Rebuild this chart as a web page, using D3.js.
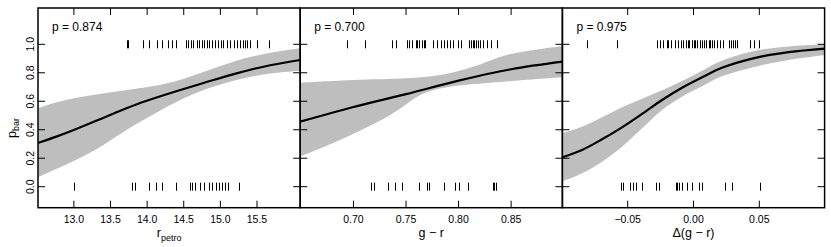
<!DOCTYPE html>
<html>
<head>
<meta charset="utf-8">
<script src="https://cdn.jsdelivr.net/npm/d3@7"></script>
<style>
  body { margin: 0; background: #fff; }
  text { font-family: "Liberation Sans", Arial, sans-serif; fill: #000; }
</style>
</head>
<body>
<div id="chart"></div>
<script>
var
    width = 831,
    height = 247;

// ---- data ----
var pTexts = ["p = 0.874", "p = 0.700", "p = 0.975"];

// panel 1 : r_petro
var rpTicks = [13.0, 13.5, 14.0, 14.5, 15.0, 15.5];
var rpCurve = [[12.508, 0.307], [12.78, 0.355], [13.055, 0.41], [13.33, 0.468], [13.60, 0.527], [13.87, 0.581], [14.15, 0.630], [14.42, 0.674], [14.77, 0.728], [15.22, 0.796], [15.68, 0.853], [16.09, 0.89]];
var rpUpper = [[12.508, 0.551], [12.78, 0.595], [13.055, 0.626], [13.33, 0.650], [13.60, 0.670], [13.87, 0.690], [14.15, 0.712], [14.42, 0.745], [14.77, 0.805], [15.22, 0.885], [15.68, 0.940], [16.09, 0.972]];
var rpLower = [[12.508, 0.066], [12.78, 0.129], [13.055, 0.195], [13.33, 0.27], [13.60, 0.36], [13.87, 0.445], [14.15, 0.527], [14.42, 0.600], [14.77, 0.679], [15.22, 0.750], [15.68, 0.795], [16.09, 0.815]];
var rpBarred = [13.72, 13.74, 13.94, 14.02, 14.13, 14.20, 14.28, 14.34, 14.40, 14.53, 14.56, 14.60, 14.63, 14.68, 14.71, 14.75, 14.78, 14.82, 14.85, 14.88, 14.92, 14.97, 15.01, 15.04, 15.09, 15.13, 15.18, 15.23, 15.27, 15.31, 15.34, 15.36, 15.41, 15.50, 15.66];
var rpUnbarred = [13.0, 13.79, 13.83, 14.02, 14.12, 14.20, 14.39, 14.59, 14.61, 14.66, 14.72, 14.77, 14.84, 14.89, 14.94, 14.98, 15.02, 15.06, 15.10, 15.26];

// panel 2 : g - r
var grTicks = [0.70, 0.75, 0.80, 0.85];
var grCurve = [[0.649, 0.456], [0.70, 0.56], [0.75, 0.65], [0.80, 0.745], [0.85, 0.825], [0.899, 0.878]];
var grUpper = [[0.649, 0.730], [0.70, 0.749], [0.75, 0.761], [0.7825, 0.784], [0.814, 0.843], [0.846, 0.925], [0.899, 0.988]];
var grLower = [[0.649, 0.211], [0.687, 0.328], [0.735, 0.504], [0.767, 0.656], [0.792, 0.702], [0.83, 0.730], [0.899, 0.768]];
var grBarred = [0.6937, 0.7111, 0.7365, 0.7406, 0.7508, 0.7530, 0.7555, 0.7593, 0.7609, 0.7628, 0.7651, 0.7672, 0.7682, 0.7755, 0.7793, 0.7831, 0.7863, 0.7888, 0.7920, 0.7951, 0.7999, 0.8021, 0.8101, 0.8117, 0.8136, 0.8151, 0.8167, 0.8189, 0.8205, 0.8231, 0.8269, 0.8310, 0.8370];
var grUnbarred = [0.7166, 0.7191, 0.7324, 0.7397, 0.7460, 0.7628, 0.7698, 0.7723, 0.7863, 0.7968, 0.8006, 0.8094, 0.8326, 0.8340, 0.8355];

// panel 3 : delta(g - r)
var dgrTicks = [-0.05, 0.00, 0.05];
var dgrCurve = [[-0.0999, 0.206], [-0.0847, 0.258], [-0.0695, 0.333], [-0.0543, 0.417], [-0.0391, 0.511], [-0.0239, 0.609], [-0.0087, 0.695], [0.0065, 0.768], [0.0216, 0.835], [0.047, 0.905], [0.0723, 0.945], [0.0999, 0.97]];
var dgrUpper = [[-0.0999, 0.375], [-0.0847, 0.421], [-0.0695, 0.487], [-0.0543, 0.558], [-0.0391, 0.618], [-0.0239, 0.677], [-0.0087, 0.742], [0.0065, 0.815], [0.0216, 0.885], [0.047, 0.955], [0.0723, 0.985], [0.0999, 1.0]];
var dgrLower = [[-0.0999, 0.035], [-0.0847, 0.094], [-0.0695, 0.176], [-0.0543, 0.281], [-0.0391, 0.41], [-0.0239, 0.539], [-0.0087, 0.632], [0.0065, 0.705], [0.0216, 0.775], [0.047, 0.843], [0.0723, 0.89], [0.0999, 0.925]];
var dgrBarred = [-0.0812, -0.0584, -0.0275, -0.0254, -0.0229, -0.0203, -0.0191, -0.0173, -0.0140, -0.0115, -0.0096, -0.0077, -0.0056, -0.0043, -0.0031, -0.0013, 0.0000, 0.0013, 0.0030, 0.0051, 0.0064, 0.0081, 0.0096, 0.0114, 0.0127, 0.0140, 0.0157, 0.0178, 0.0198, 0.0224, 0.0266, 0.0284, 0.0300, 0.0317, 0.0330, 0.0431, 0.0462, 0.0495];
var dgrUnbarred = [-0.0553, -0.0533, -0.0482, -0.0457, -0.0437, -0.0393, -0.0284, -0.0259, -0.0132, -0.0122, -0.0112, -0.0089, -0.0051, -0.0013, 0.0038, 0.0064, 0.0241, 0.0292, 0.0502];

var yTicks = [0.0, 0.2, 0.4, 0.6, 0.8, 1.0];

// ---- layout ----
var plotLeft = 38, panelW = 262.2, plotTop = 8, plotBottom = 207.7;

var panels = [
  {dom: [12.51, 16.09], ticks: rpTicks, fmt: d3.format(".1f"), curve: rpCurve, up: rpUpper, lo: rpLower, bar: rpBarred, unb: rpUnbarred, title: ["r", "petro"]},
  {dom: [0.6493, 0.8988], ticks: grTicks, fmt: d3.format(".2f"), curve: grCurve, up: grUpper, lo: grLower, bar: grBarred, unb: grUnbarred, title: ["g \u2212 r", ""]},
  {dom: [-0.0996, 0.0996], ticks: dgrTicks, fmt: function(d) { return d3.format(".2f")(d).replace("-", "\u2212"); }, curve: dgrCurve, up: dgrUpper, lo: dgrLower, bar: dgrBarred, unb: dgrUnbarred, title: ["\u0394(g \u2212 r)", ""]}
];

var svg = d3.select("#chart")
        .append("svg")
        .attr("width", width)
        .attr("height", height);

var y = d3.scaleLinear().domain([0, 1]).range([186.7, 44.3]);

panels.forEach(function(p, i) {
  var x0 = plotLeft + i * panelW, x1 = x0 + panelW;
  var x = d3.scaleLinear().domain(p.dom).range([x0, x1]);

  svg.append("clipPath").attr("id", "clip" + i)
    .append("rect").attr("x", x0).attr("y", plotTop).attr("width", panelW).attr("height", plotBottom - plotTop);

  var g = svg.append("g").attr("clip-path", "url(#clip" + i + ")");

  var line = d3.line()
      .x(function(d) { return x(d[0]); })
      .y(function(d) { return y(d[1]); })
      .curve(d3.curveCatmullRom);

  // confidence band
  var upPath = line(p.up);
  var loPath = line(p.lo.slice().reverse());
  g.append("path")
    .attr("d", upPath + loPath.replace(/^M/, "L") + "Z")
    .attr("fill", "#bebebe")
    .attr("stroke", "none");

  // fitted curve
  g.append("path")
    .attr("d", line(p.curve))
    .attr("fill", "none")
    .attr("stroke", "#000")
    .attr("stroke-width", 2.2);

  // rugs
  g.selectAll(".rugTop").data(p.bar).enter().append("line")
    .attr("x1", function(d) { return Math.round(x(d)) + 0.5; })
    .attr("x2", function(d) { return Math.round(x(d)) + 0.5; })
    .attr("y1", y(1) - 4).attr("y2", y(1) + 4)
    .attr("stroke", "#000").attr("stroke-width", 1);
  g.selectAll(".rugBot").data(p.unb).enter().append("line")
    .attr("x1", function(d) { return Math.round(x(d)) + 0.5; })
    .attr("x2", function(d) { return Math.round(x(d)) + 0.5; })
    .attr("y1", y(0) - 4).attr("y2", y(0) + 4)
    .attr("stroke", "#000").attr("stroke-width", 1);

  // ticks, all inward
  var tl = 7;
  p.ticks.forEach(function(t) {
    svg.append("line").attr("x1", x(t)).attr("x2", x(t)).attr("y1", plotBottom).attr("y2", plotBottom - tl)
      .attr("stroke", "#000").attr("stroke-width", 1);
    svg.append("line").attr("x1", x(t)).attr("x2", x(t)).attr("y1", plotTop).attr("y2", plotTop + tl)
      .attr("stroke", "#000").attr("stroke-width", 1);
    svg.append("text").attr("x", x(t)).attr("y", 223)
      .attr("text-anchor", "middle").attr("font-size", "10.5px")
      .text(p.fmt(t));
  });
  yTicks.forEach(function(t) {
    svg.append("line").attr("x1", x0).attr("x2", x0 + tl).attr("y1", y(t)).attr("y2", y(t))
      .attr("stroke", "#000").attr("stroke-width", 1);
    svg.append("line").attr("x1", x1).attr("x2", x1 - tl).attr("y1", y(t)).attr("y2", y(t))
      .attr("stroke", "#000").attr("stroke-width", 1);
  });

  // frame
  svg.append("rect").attr("x", x0).attr("y", plotTop).attr("width", panelW).attr("height", plotBottom - plotTop)
    .attr("fill", "none").attr("stroke", "#000").attr("stroke-width", 1.5);

  // p value
  svg.append("text").attr("x", x0 + 14).attr("y", 31)
    .attr("font-size", "12px").text(pTexts[i]);

  // axis title
  var tt = svg.append("text").attr("x", (x0 + x1) / 2).attr("y", 237)
    .attr("text-anchor", "middle").attr("font-size", "12.5px");
  tt.append("tspan").text(p.title[0]);
  if (p.title[1]) tt.append("tspan").attr("dy", 3.5).attr("font-size", "9px").text(p.title[1]);
});

// y tick labels
yTicks.forEach(function(t) {
  svg.append("text")
    .attr("transform", "translate(33.5," + y(t) + ") rotate(-90)")
    .attr("text-anchor", "middle").attr("font-size", "10.5px")
    .text(d3.format(".1f")(t));
});

// y title
var yt = svg.append("text")
  .attr("transform", "translate(15.5,128) rotate(-90)")
  .attr("text-anchor", "middle").attr("font-size", "12.5px");
yt.append("tspan").text("p");
yt.append("tspan").attr("dy", 3.5).attr("font-size", "9px").text("bar");
</script>
</body>
</html>
